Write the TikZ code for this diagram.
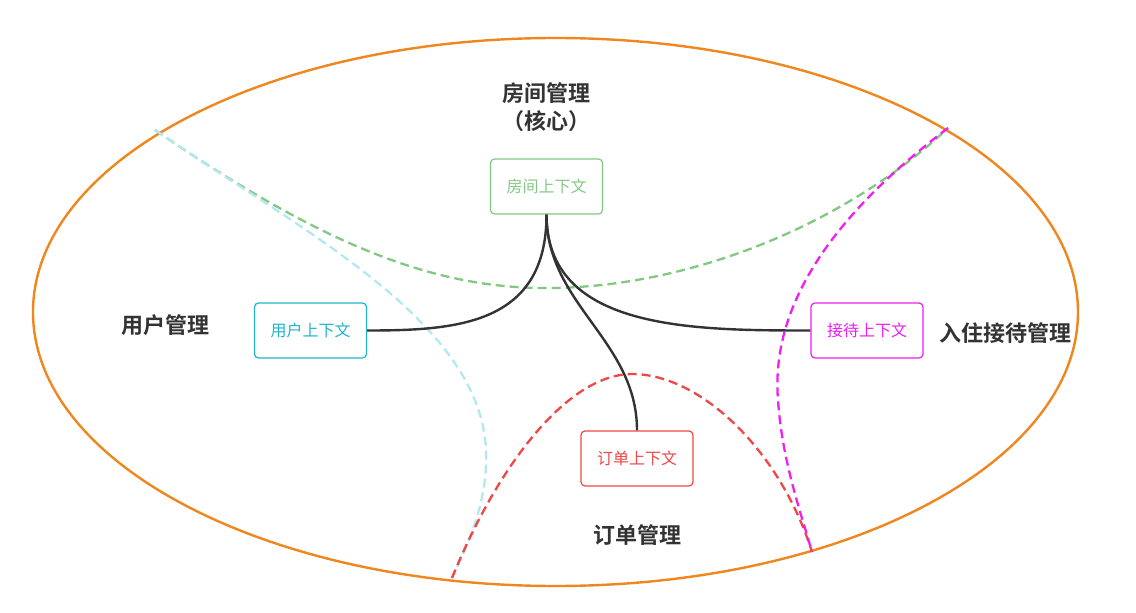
\documentclass[tikz,border=0pt]{standalone}
\usepackage{fontspec}
\newfontfamily\cjk{Noto Sans CJK SC}
\newfontfamily\cjkb{Noto Sans CJK SC Bold}
\definecolor{orng}{HTML}{F0861E}
\definecolor{grn}{HTML}{82C882}
\definecolor{cyn}{HTML}{1EB4CC}
\definecolor{lcyn}{HTML}{B4E8F0}
\definecolor{mag}{HTML}{F01EF0}
\definecolor{rd}{HTML}{F04646}
\definecolor{dk}{HTML}{333333}
\begin{document}
\begin{tikzpicture}[x=1pt,y=-1pt,
  ctx/.style={draw=#1,text=#1,line width=1.2pt,rounded corners=4pt,minimum width=112pt,minimum height=55pt,font=\cjk\fontsize{16pt}{18pt}\selectfont,inner sep=0pt},
  ttl/.style={text=dk,font=\cjkb\fontsize{22pt}{28pt}\selectfont,align=center,inner sep=0pt},
  conn/.style={draw=dk,line width=2.4pt},
  bnd/.style={line width=2.3pt,dash pattern=on 9pt off 5pt}]
\useasboundingbox (0,0) rectangle (1136,613);
\draw[orng,line width=2.4pt] (555.5,312) ellipse [x radius=522.5,y radius=274];
% boundaries
\coordinate (tl) at (155,130);
\coordinate (tr) at (948,128);
\coordinate (bl) at (452,578);
\coordinate (br) at (812,552);
\draw[grn,bnd] (tl) .. controls (330,250) and (440,290) .. (555,288) .. controls (700,285) and (850,220) .. (tr);
\draw[lcyn,bnd] (tl) .. controls (300,230) and (480,320) .. (486,450) .. controls (488,500) and (470,540) .. (bl);
\draw[rd,bnd] (bl) .. controls (500,460) and (570,374) .. (632,374) .. controls (700,374) and (780,450) .. (br);
\draw[mag,bnd] (tr) .. controls (840,210) and (770,300) .. (778,400) .. controls (782,460) and (800,510) .. (br);
% nodes
\node[ctx=grn] (room) at (546.5,186.5) {房间上下文};
\node[ctx=cyn] (user) at (310.5,330.5) {用户上下文};
\node[ctx=mag] (recv) at (867,330.5) {接待上下文};
\node[ctx=rd] (order) at (637,458.5) {订单上下文};
\draw[conn] (room.south) .. controls +(0,110) and +(90,0) .. (user.east);
\draw[conn] (room.south) .. controls +(0,115) and +(-120,0) .. (recv.west);
\draw[conn] (room.south) .. controls +(0,90) and +(0,-90) .. (order.north);
% titles
\node[ttl] (t1) at (546,107) {房间管理\\（核心）};
\node[ttl] (t2) at (165,325) {用户管理};
\node[ttl] (t3) at (1005,333) {入住接待管理};
\node[ttl] (t4) at (637,535) {订单管理};
\end{tikzpicture}
\end{document}
